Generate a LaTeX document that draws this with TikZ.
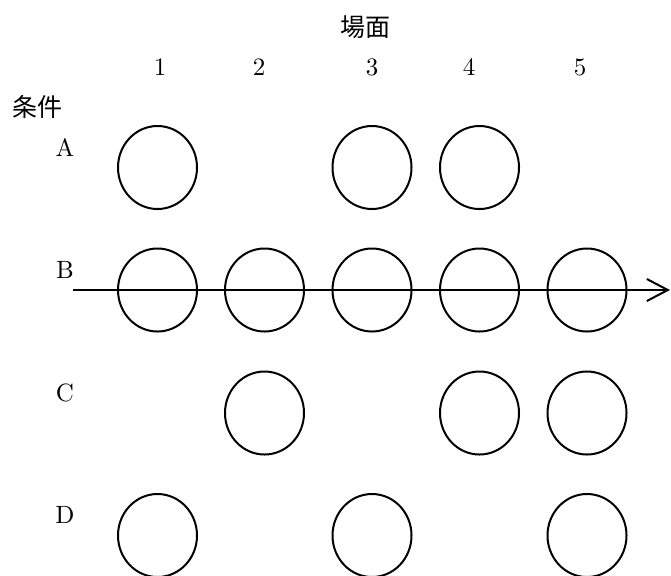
\documentclass[tikz,border=0pt]{standalone}
\usepackage{fontspec}
\newfontfamily\jpfont{Noto Sans CJK JP}
\usetikzlibrary{positioning, arrows.meta, shapes.geometric}

\begin{document}
\begin{tikzpicture}[
    x=0.4pt, y=-0.4pt,
    >={Straight Barb[length=8.4pt, width=8.8pt]},
    ringmark/.style={draw, ellipse, line width=0.8pt, inner sep=0pt,
        minimum width=31.6pt, minimum height=33.2pt},
    head/.style={font=\fontsize{10}{12}\selectfont\jpfont, inner sep=0pt},
    colnum/.style={font=\fontsize{10}{12}\selectfont, inner sep=0pt},
    rowlab/.style={font=\fontsize{10}{12}\selectfont, inner sep=0pt},
]
\useasboundingbox (0,0) rectangle (671,575);

% ============================================
% Headers
% ============================================
\node[head] (scene) at (365,27) {場面};
\node[head] (cond) at (37,107) {条件};

\node[colnum] (n1) at (160,67) {1};
\node[colnum] (n2) at (259,67) {2};
\node[colnum] (n3) at (372,67) {3};
\node[colnum] (n4) at (469,67) {4};
\node[colnum] (n5) at (580,67) {5};

\node[rowlab] (la) at (65,148) {A};
\node[rowlab] (lb) at (65,270) {B};
\node[rowlab] (lc) at (65,393) {C};
\node[rowlab] (ld) at (65,515) {D};

% ============================================
% Circles
% ============================================
% row A
\node[ringmark] (a1) at (157.5,167.5) {};
\node[ringmark] (a3) at (372,167.5) {};
\node[ringmark] (a4) at (479.5,167.5) {};

% row B
\node[ringmark] (b1) at (157.5,290) {};
\node[ringmark] (b2) at (264.5,290) {};
\node[ringmark] (b3) at (372,290) {};
\node[ringmark] (b4) at (479.5,290) {};
\node[ringmark] (b5) at (587,290) {};

% row C
\node[ringmark] (c2) at (264.5,413) {};
\node[ringmark] (c4) at (479.5,413) {};
\node[ringmark] (c5) at (587,413) {};

% row D
\node[ringmark] (d1) at (157.5,535.5) {};
\node[ringmark] (d3) at (372,535.5) {};
\node[ringmark] (d5) at (587,535.5) {};

% ============================================
% Time arrow
% ============================================
\coordinate (tstart) at (73,290);
\coordinate (tend) at (670,290);
\draw[->, line width=0.8pt] (tstart) -- (tend);

\end{tikzpicture}
\end{document}
